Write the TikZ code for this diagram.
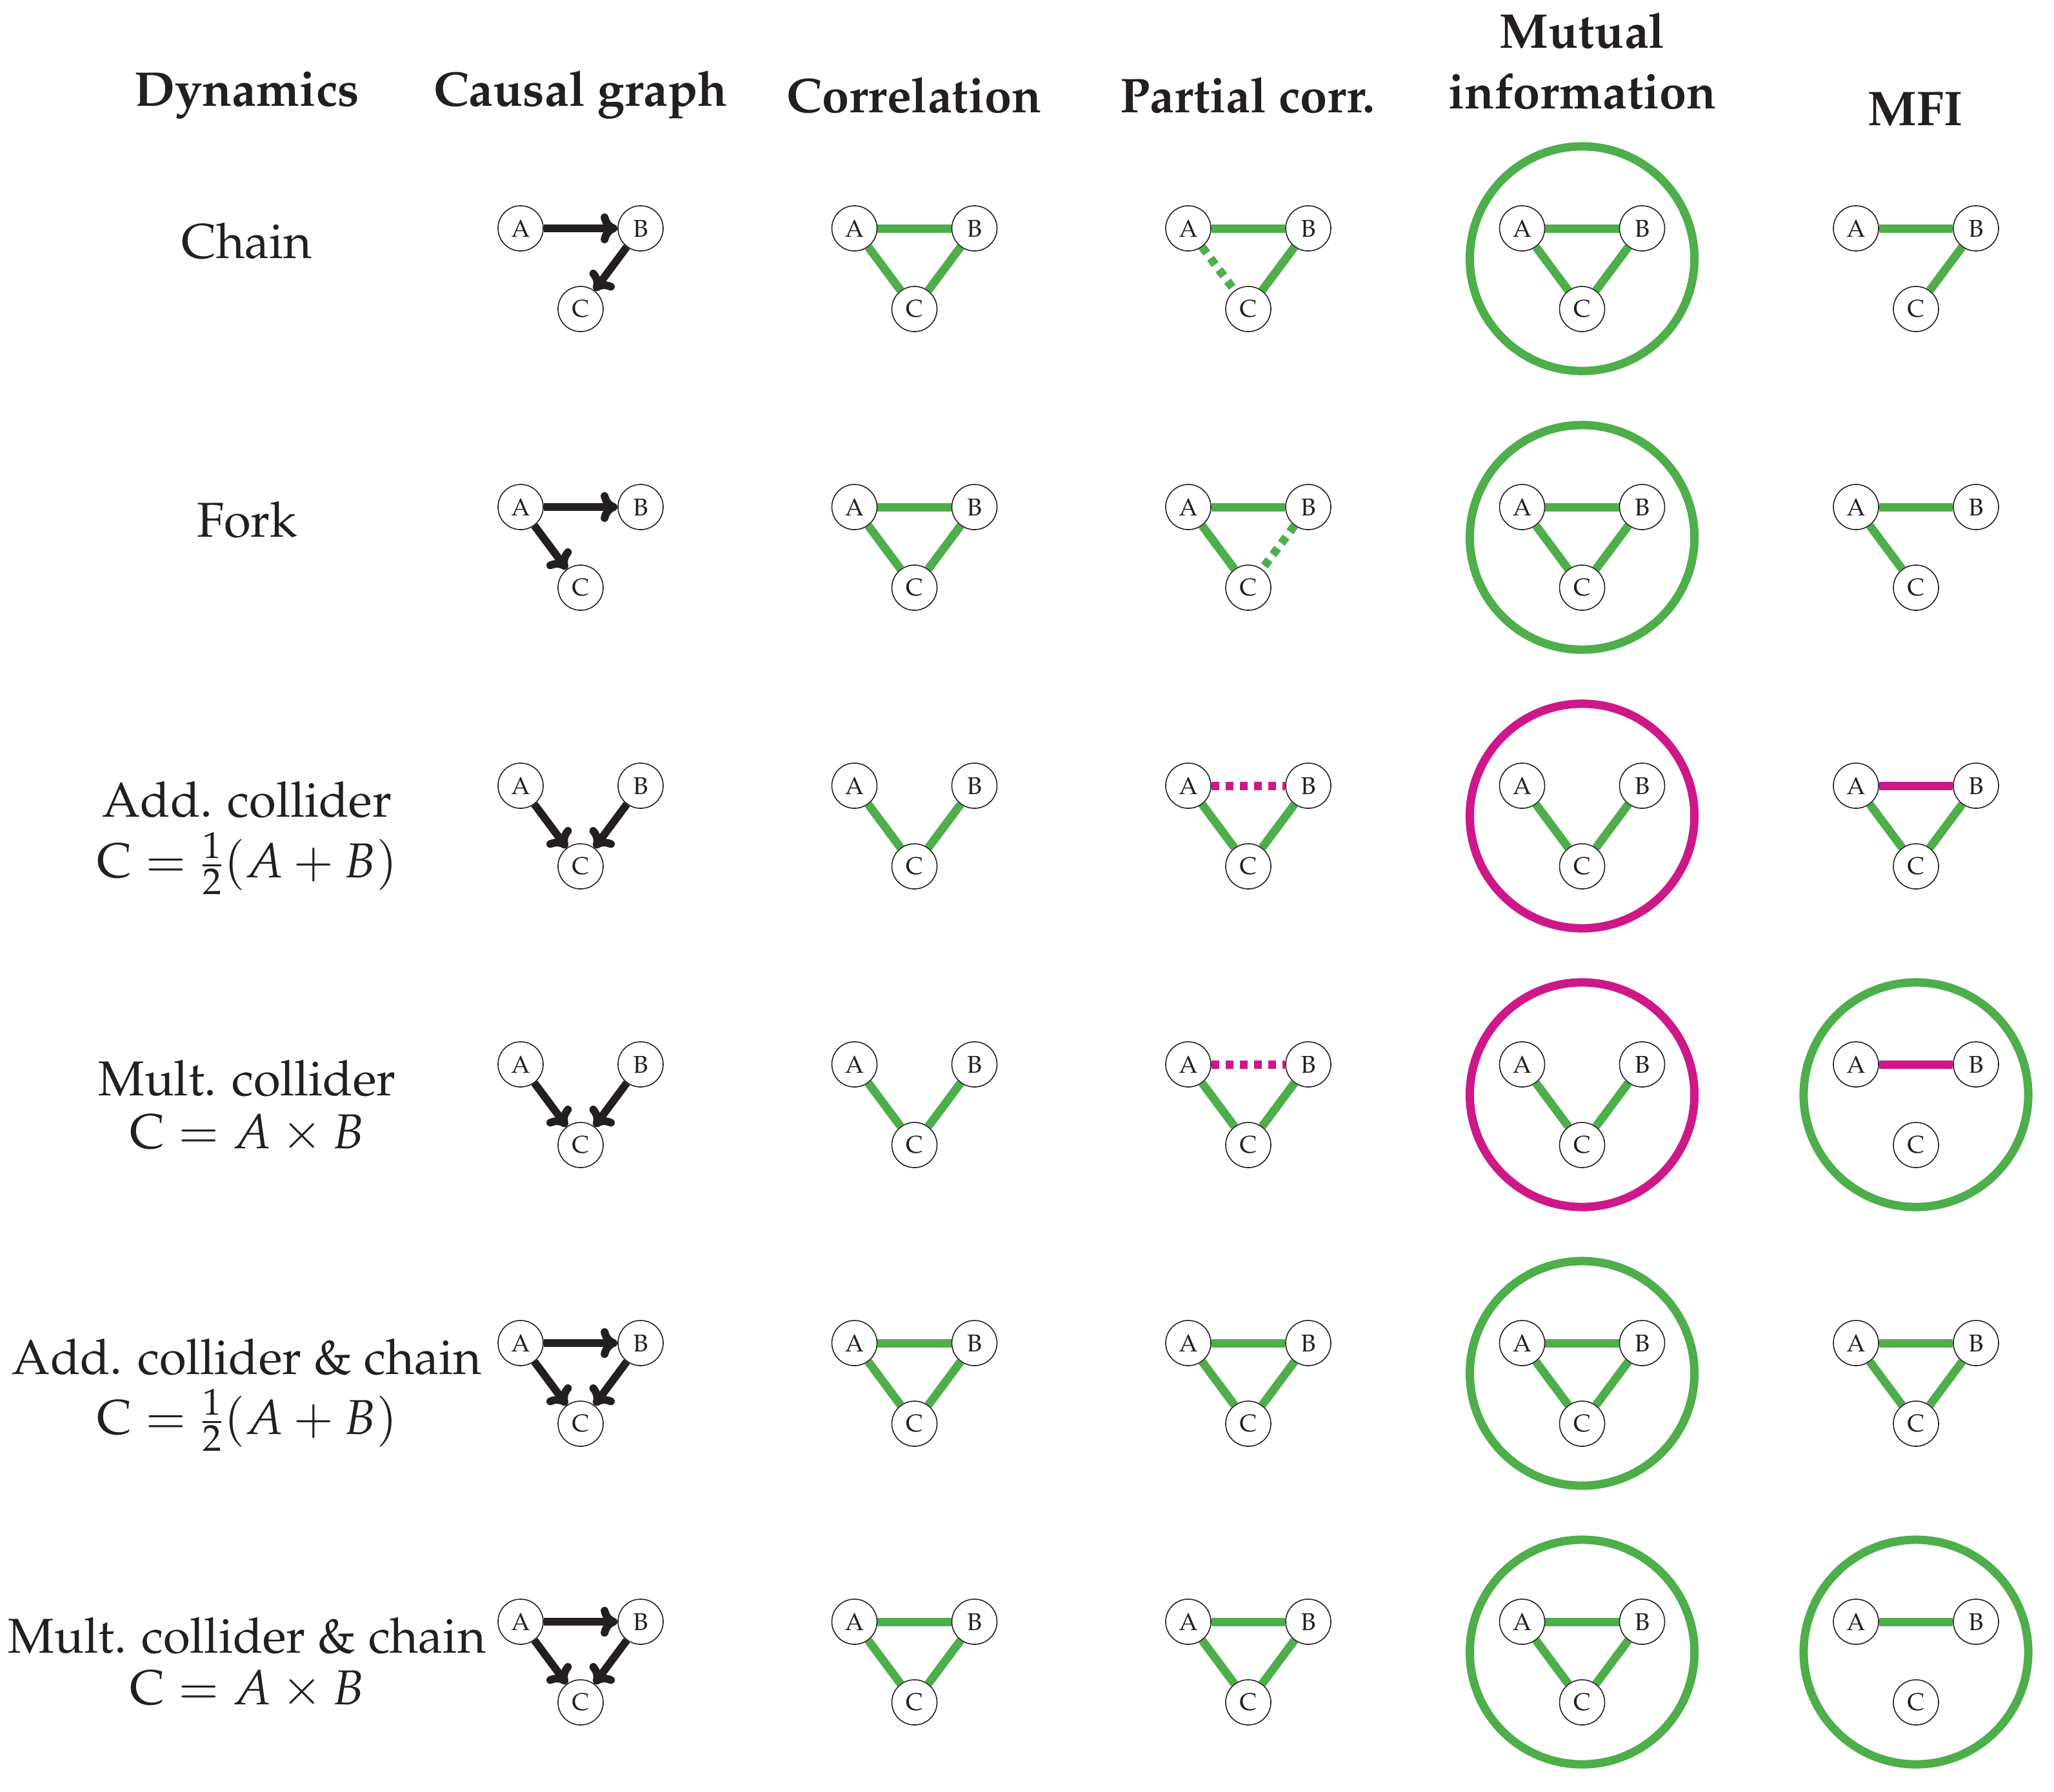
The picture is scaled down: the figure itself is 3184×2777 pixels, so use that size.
\documentclass[tikz,border=0pt]{standalone}
\usepackage[T1]{fontenc}
\usepackage{mathpazo}
\usetikzlibrary{arrows.meta}
\definecolor{cgreen}{RGB}{77,174,74}
\definecolor{cmag}{RGB}{206,24,137}
\definecolor{ink}{RGB}{35,31,32}
\pgfdeclarelayer{bg}
\pgfsetlayers{bg,main}
\newcommand\mktrio[3]{%
  \node[vtx] (#1A) at (#2-93,#3) {A};
  \node[vtx] (#1B) at (#2+93,#3) {B};
  \node[vtx] (#1C) at (#2,#3+125) {C};}
\tikzset{
  vtx/.style={circle, draw=ink, line width=0.45pt, fill=white, minimum size=0.70cm,
    inner sep=0pt, text=ink, font=\fontsize{10.7}{12}\selectfont},
  gl/.style={draw=cgreen, line width=0.13cm},
  ml/.style={draw=cmag, line width=0.13cm},
  dotl/.style={dash pattern=on 0.12cm off 0.10cm},
  arr/.style={draw=ink, line width=0.12cm, -{Computer Modern Rightarrow[length=0.26cm, width=0.46cm]}},
  ringg/.style={circle, draw=cgreen, line width=0.13cm, minimum size=3.48cm, inner sep=0pt},
  ringm/.style={circle, draw=cmag, line width=0.13cm, minimum size=3.48cm, inner sep=0pt},
  lbl/.style={anchor=base, inner sep=0pt, text=ink, font=\fontsize{21.6}{26}\selectfont},
  hdr/.style={anchor=base, inner sep=0pt, text=ink, font=\fontsize{21.5}{26}\selectfont\bfseries},
}
\begin{document}
\begin{tikzpicture}[x=0.01cm, y=-0.01cm]
\useasboundingbox (0,0) rectangle (3184,2777);
% headers
\node[hdr] (hDyn) at (383,164) {Dynamics};
\node[hdr] (hCau) at (900,164) {Causal graph};
\node[hdr] (hCor) at (1417,174) {Correlation};
\node[hdr] (hPar) at (1934,174) {Partial corr.};
\node[hdr] (hMu1) at (2453,74) {Mutual};
\node[hdr] (hMu2) at (2453,168) {information};
\node[hdr] (hMFI) at (2969,194) {MFI};
% row labels
\node[lbl] (r1) at (383,400) {Chain};
\node[lbl] (r2) at (383,832) {Fork};
\node[lbl] (r3a) at (383,1266) {Add. collider};
\node[lbl] (r3b) at (383,1360) {$\mathrm{C} = \frac{1}{2}(A + B)$};
\node[lbl] (r4a) at (383,1698) {Mult. collider};
\node[lbl] (r4b) at (383,1780) {$\mathrm{C} = A \times B$};
\node[lbl] (r5a) at (383,2130) {Add. collider \& chain};
\node[lbl] (r5b) at (383,2223) {$\mathrm{C} = \frac{1}{2}(A + B)$};
\node[lbl] (r6a) at (383,2562) {Mult. collider \& chain};
\node[lbl] (r6b) at (383,2642) {$\mathrm{C} = A \times B$};
% ---------- Row 1: chain
\mktrio{ca1}{900}{354}
\mktrio{co1}{1417.5}{354}
\mktrio{pc1}{1935}{354}
\mktrio{mi1}{2452.5}{354}
\mktrio{mf1}{2970}{354}
\node[ringg] (mi1r) at (2452.5,401) {};
% ---------- Row 2: fork
\mktrio{ca2}{900}{786}
\mktrio{co2}{1417.5}{786}
\mktrio{pc2}{1935}{786}
\mktrio{mi2}{2452.5}{786}
\mktrio{mf2}{2970}{786}
\node[ringg] (mi2r) at (2452.5,833) {};
% ---------- Row 3: add collider
\mktrio{ca3}{900}{1218}
\mktrio{co3}{1417.5}{1218}
\mktrio{pc3}{1935}{1218}
\mktrio{mi3}{2452.5}{1218}
\mktrio{mf3}{2970}{1218}
\node[ringm] (mi3r) at (2452.5,1265) {};
% ---------- Row 4: mult collider
\mktrio{ca4}{900}{1650}
\mktrio{co4}{1417.5}{1650}
\mktrio{pc4}{1935}{1650}
\mktrio{mi4}{2452.5}{1650}
\mktrio{mf4}{2970}{1650}
\node[ringm] (mi4r) at (2452.5,1697) {};
\node[ringg] (mf4r) at (2970,1697) {};
% ---------- Row 5: add collider & chain
\mktrio{ca5}{900}{2082}
\mktrio{co5}{1417.5}{2082}
\mktrio{pc5}{1935}{2082}
\mktrio{mi5}{2452.5}{2082}
\mktrio{mf5}{2970}{2082}
\node[ringg] (mi5r) at (2452.5,2129) {};
% ---------- Row 6: mult collider & chain
\mktrio{ca6}{900}{2514}
\mktrio{co6}{1417.5}{2514}
\mktrio{pc6}{1935}{2514}
\mktrio{mi6}{2452.5}{2514}
\mktrio{mf6}{2970}{2514}
\node[ringg] (mi6r) at (2452.5,2561) {};
\node[ringg] (mf6r) at (2970,2561) {};
\begin{pgfonlayer}{bg}
% row 1
\draw[arr] (ca1A) -- (ca1B);
\draw[arr] (ca1B) -- (ca1C);
\draw[gl] (co1A) -- (co1B); \draw[gl] (co1A) -- (co1C); \draw[gl] (co1B) -- (co1C);
\draw[gl] (pc1A) -- (pc1B); \draw[gl,dotl] (pc1A) -- (pc1C); \draw[gl] (pc1B) -- (pc1C);
\draw[gl] (mi1A) -- (mi1B); \draw[gl] (mi1A) -- (mi1C); \draw[gl] (mi1B) -- (mi1C);
\draw[gl] (mf1A) -- (mf1B); \draw[gl] (mf1B) -- (mf1C);
% row 2
\draw[arr] (ca2A) -- (ca2B);
\draw[arr] (ca2A) -- (ca2C);
\draw[gl] (co2A) -- (co2B); \draw[gl] (co2A) -- (co2C); \draw[gl] (co2B) -- (co2C);
\draw[gl] (pc2A) -- (pc2B); \draw[gl] (pc2A) -- (pc2C); \draw[gl,dotl] (pc2B) -- (pc2C);
\draw[gl] (mi2A) -- (mi2B); \draw[gl] (mi2A) -- (mi2C); \draw[gl] (mi2B) -- (mi2C);
\draw[gl] (mf2A) -- (mf2B); \draw[gl] (mf2A) -- (mf2C);
% row 3
\draw[arr] (ca3A) -- (ca3C);
\draw[arr] (ca3B) -- (ca3C);
\draw[gl] (co3A) -- (co3C); \draw[gl] (co3B) -- (co3C);
\draw[ml,dotl] (pc3A) -- (pc3B); \draw[gl] (pc3A) -- (pc3C); \draw[gl] (pc3B) -- (pc3C);
\draw[gl] (mi3A) -- (mi3C); \draw[gl] (mi3B) -- (mi3C);
\draw[ml] (mf3A) -- (mf3B); \draw[gl] (mf3A) -- (mf3C); \draw[gl] (mf3B) -- (mf3C);
% row 4
\draw[arr] (ca4A) -- (ca4C);
\draw[arr] (ca4B) -- (ca4C);
\draw[gl] (co4A) -- (co4C); \draw[gl] (co4B) -- (co4C);
\draw[ml,dotl] (pc4A) -- (pc4B); \draw[gl] (pc4A) -- (pc4C); \draw[gl] (pc4B) -- (pc4C);
\draw[gl] (mi4A) -- (mi4C); \draw[gl] (mi4B) -- (mi4C);
\draw[ml] (mf4A) -- (mf4B);
% row 5
\draw[arr] (ca5A) -- (ca5B);
\draw[arr] (ca5A) -- (ca5C);
\draw[arr] (ca5B) -- (ca5C);
\draw[gl] (co5A) -- (co5B); \draw[gl] (co5A) -- (co5C); \draw[gl] (co5B) -- (co5C);
\draw[gl] (pc5A) -- (pc5B); \draw[gl] (pc5A) -- (pc5C); \draw[gl] (pc5B) -- (pc5C);
\draw[gl] (mi5A) -- (mi5B); \draw[gl] (mi5A) -- (mi5C); \draw[gl] (mi5B) -- (mi5C);
\draw[gl] (mf5A) -- (mf5B); \draw[gl] (mf5A) -- (mf5C); \draw[gl] (mf5B) -- (mf5C);
% row 6
\draw[arr] (ca6A) -- (ca6B);
\draw[arr] (ca6A) -- (ca6C);
\draw[arr] (ca6B) -- (ca6C);
\draw[gl] (co6A) -- (co6B); \draw[gl] (co6A) -- (co6C); \draw[gl] (co6B) -- (co6C);
\draw[gl] (pc6A) -- (pc6B); \draw[gl] (pc6A) -- (pc6C); \draw[gl] (pc6B) -- (pc6C);
\draw[gl] (mi6A) -- (mi6B); \draw[gl] (mi6A) -- (mi6C); \draw[gl] (mi6B) -- (mi6C);
\draw[gl] (mf6A) -- (mf6B);
\end{pgfonlayer}
\end{tikzpicture}
\end{document}
